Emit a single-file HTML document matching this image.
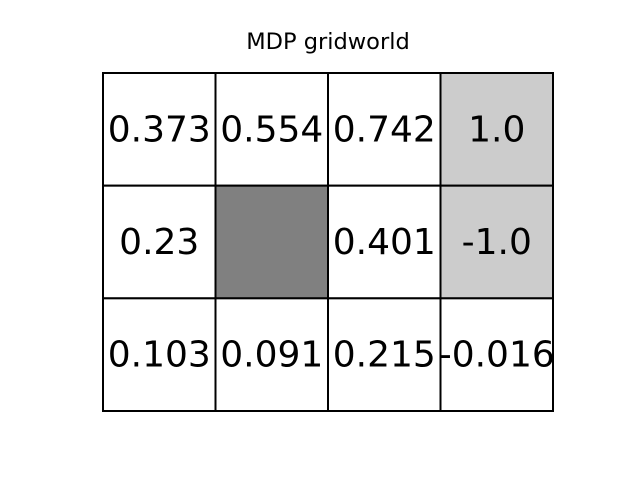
<!DOCTYPE html>
<html><head><meta charset="utf-8">
<style>
body{margin:0;background:#fff;}
svg{display:block;}
</style></head>
<body>
<svg id="chart" width="640" height="480" xmlns="http://www.w3.org/2000/svg">
<rect width="640" height="480" fill="#fff"/>
<text x="328" y="49" text-anchor="middle" font-family="DejaVu Sans, Liberation Sans, sans-serif" font-size="22.5" fill="#000">MDP gridworld</text>
<g id="cells"></g>
</svg>
<script>
const rowValues0 = ["0.373","0.554","0.742","1.0"];
const rowValues1 = ["0.23","","0.401","-1.0"];
const rowValues2 = ["0.103","0.091","0.215","-0.016"];
const cellTypes0 = ["n","n","n","t"];
const cellTypes1 = ["n","w","n","t"];
const cellTypes2 = ["n","n","n","n"];
const values=[rowValues0,rowValues1,rowValues2];
const types=[cellTypes0,cellTypes1,cellTypes2];
const x0=103,y0=73,x1=553,y1=411;
const nc=4,nr=3;
const cw=(x1-x0)/nc,ch=(y1-y0)/nr;
const xs=c=>x0+c*cw, ys=r=>y0+r*ch;
const fills={n:"#ffffff",w:"#808080",t:"#cccccc"};
const g=document.getElementById('cells');
const NS="http://www.w3.org/2000/svg";
for(let r=0;r<nr;r++)for(let c=0;c<nc;c++){
  const rect=document.createElementNS(NS,'rect');
  rect.setAttribute('x',xs(c));rect.setAttribute('y',ys(r));
  rect.setAttribute('width',cw);rect.setAttribute('height',ch);
  rect.setAttribute('fill',fills[types[r][c]]);
  rect.setAttribute('stroke','#000');rect.setAttribute('stroke-width','2');
  
  
  g.appendChild(rect);
  if(values[r][c]!==""){
    const t=document.createElementNS(NS,'text');
    t.setAttribute('x',xs(c)+cw/2);t.setAttribute('y',ys(r)+ch/2+12);
    t.setAttribute('text-anchor','middle');
    t.setAttribute('font-family','DejaVu Sans, Liberation Sans, sans-serif');
    t.setAttribute('font-size','36');
    t.textContent=values[r][c];
    
    
    g.appendChild(t);
  }
}
</script>
</body></html>
